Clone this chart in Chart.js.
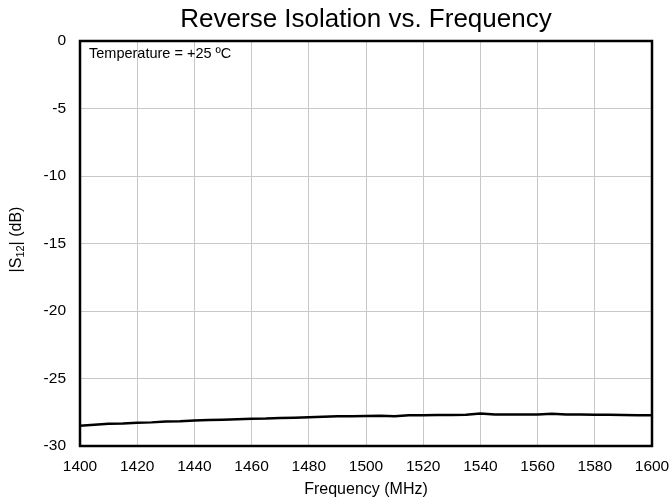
<!DOCTYPE html>
<html>
<head>
<meta charset="utf-8">
<script src="https://cdn.jsdelivr.net/npm/chart.js@4"></script>
<style>
  html, body { margin: 0; padding: 0; background: #fff; }
  #wrap { width: 671px; height: 499px; }
</style>
</head>
<body>
<div id="wrap"><canvas id="c"></canvas></div>
<script>
// S12 vs frequency (every 5 MHz)
const freqs = [1400,1405,1410,1415,1420,1425,1430,1435,1440,1445,1450,1455,1460,1465,1470,1475,1480,1485,1490,1495,
               1500,1505,1510,1515,1520,1525,1530,1535,1540,1545,1550,1555,1560,1565,1570,1575,1580,1585,1590,1595,1600];
const s12 = [-28.50,-28.42,-28.35,-28.33,-28.27,-28.25,-28.18,-28.17,-28.12,-28.08,-28.05,-28.02,-27.98,-27.97,-27.93,-27.90,-27.87,-27.84,-27.80,-27.80,
             -27.77,-27.76,-27.80,-27.72,-27.72,-27.70,-27.70,-27.68,-27.60,-27.66,-27.66,-27.66,-27.66,-27.62,-27.66,-27.67,-27.68,-27.69,-27.70,-27.72,-27.72];
const xTicks = [1400,1420,1440,1460,1480,1500,1520,1540,1560,1580,1600];
const yTicks = [0,-5,-10,-15,-20,-25,-30];

const FONT = "'Liberation Sans', Arial, sans-serif";

// title, y-axis label with subscript, note and plot frame
const decor = {
  id: 'decor',
  afterDraw(chart) {
    const { ctx, chartArea: a } = chart;
    ctx.save();
    ctx.fillStyle = '#000';
    ctx.textBaseline = 'middle';

    ctx.font = `26px ${FONT}`;
    ctx.textAlign = 'center';
    ctx.fillText('Reverse Isolation vs. Frequency', (a.left + a.right) / 2, 20);

    ctx.font = `14.5px ${FONT}`;
    ctx.textAlign = 'left';
    ctx.fillText('Temperature = +25 ºC', a.left + 9, 54);

    // |S12| (dB), rotated
    ctx.translate(17, (a.top + a.bottom) / 2 - 4);
    ctx.rotate(-Math.PI / 2);
    const big = `16px ${FONT}`, small = `11px ${FONT}`;
    const parts = [['|S', big, 0], ['12', small, 4], ['| (dB)', big, 0]];
    let w = 0;
    parts.forEach(([t, f]) => { ctx.font = f; w += ctx.measureText(t).width; });
    let x = -w / 2;
    parts.forEach(([t, f, dy]) => { ctx.font = f; ctx.fillText(t, x, dy); x += ctx.measureText(t).width; });
    ctx.restore();

    ctx.save();
    ctx.strokeStyle = '#000';
    ctx.lineWidth = 2.5;
    ctx.strokeRect(a.left, a.top, a.right - a.left, a.bottom - a.top);
    ctx.restore();
  }
};

new Chart(document.getElementById('c'), {
  type: 'line',
  plugins: [decor],
  data: {
    datasets: [{
      data: freqs.map((f, i) => ({ x: f, y: s12[i] })),
      borderColor: '#000', borderWidth: 2.5, pointRadius: 0, tension: 0, fill: false
    }]
  },
  options: {
    responsive: true, maintainAspectRatio: false, animation: false,
    layout: { padding: { top: 41, right: 19, left: 0, bottom: 0 } },
    plugins: { legend: { display: false }, tooltip: { enabled: false } },
    scales: {
      x: {
        type: 'linear', min: 1400, max: 1600,
        afterBuildTicks: s => { s.ticks = xTicks.map(v => ({ value: v })); },
        afterFit: s => { s.height = 53; s.paddingLeft = 0; s.paddingRight = 0; },
        ticks: { color: '#000', font: { family: FONT, size: 15.5 }, padding: 11, maxRotation: 0, callback: v => String(v) },
        grid: { color: '#c8c8c8', drawTicks: false },
        border: { display: false },
        title: { display: true, text: 'Frequency (MHz)', color: '#000', font: { family: FONT, size: 16 }, padding: { top: 0, bottom: 0 } }
      },
      y: {
        min: -30, max: 0,
        afterBuildTicks: s => { s.ticks = yTicks.map(v => ({ value: v })); },
        afterFit: s => { s.width = 80; },
        ticks: { color: '#000', font: { family: FONT, size: 15.5 }, padding: 14, callback: v => String(v) },
        grid: { color: '#c8c8c8', drawTicks: false },
        border: { display: false }
      }
    }
  }
});
</script>
</body>
</html>
